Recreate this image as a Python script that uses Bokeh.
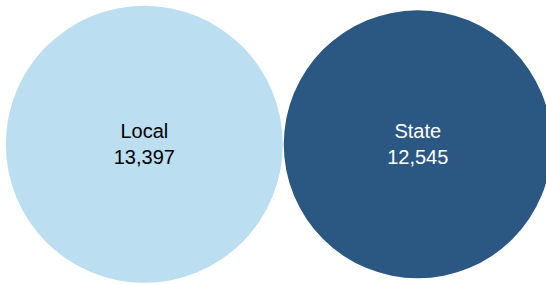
import numpy as np
from bokeh.plotting import figure
from bokeh.models import ColumnDataSource, Range1d
from bokeh.core.properties import value
from bokeh.embed import file_html
from bokeh.resources import INLINE

# ---- data ----
categories = ["Local", "State"]
values = [13397, 12545]
fill_colors = ["#BBDEF1", "#2B5783"]
text_colors = ["#000000", "#FFFFFF"]

# circle area proportional to value
radii = np.sqrt(np.array(values, dtype=float))
gap = 0.8
x = [0.0, radii[0] + radii[1] + gap]
y = [0.0, 0.0]
value_labels = [f"{v:,}" for v in values]

# ---- layout ----
W, H = 546, 284
S = 1.1965            # pixels per data unit
cx_px = 143.8         # pixel position of first circle's centre
cy_px = 143.8
x_start = -cx_px / S
y_end = cy_px / S

p = figure(width=W, height=H, output_backend="svg", toolbar_location=None,
           x_range=Range1d(x_start, x_start + W / S),
           y_range=Range1d(y_end - H / S, y_end),
           min_border=0)
p.xaxis.visible = False
p.yaxis.visible = False
p.grid.visible = False
p.outline_line_color = None
p.background_fill_color = "white"
p.border_fill_color = "white"

src = ColumnDataSource(dict(x=x, y=y, r=radii, fill=fill_colors, tc=text_colors,
                            name=categories, val=value_labels))

p.circle(x="x", y="y", radius="r", fill_color="fill", line_color=None, source=src)

common = dict(x="x", y="y", text_color="tc", text_align="center",
              text_baseline="alphabetic", text_font=value("Liberation Sans"),
              text_font_size="20px", source=src)
p.text(text="name", y_offset=-13, **common)
p.text(text="val", y_offset=13, **common)

open("out.html", "w").write(file_html(p, INLINE))
